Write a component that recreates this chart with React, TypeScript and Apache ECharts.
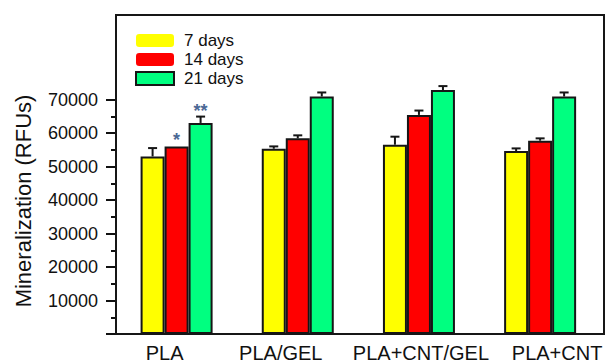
import React, { useEffect, useRef } from "react";
import * as echarts from "echarts";

const categories = ["PLA", "PLA/GEL", "PLA+CNT/GEL", "PLA+CNT"];
const seriesNames = ["7 days", "14 days", "21 days"];
const seriesColors = ["#ffff00", "#ff0000", "#00ff80"];
const day7 = [53000, 55300, 56500, 54600];
const day14 = [56000, 58400, 65400, 57700];
const day21 = [63000, 70900, 72800, 70900];
const err7 = [2500, 700, 2400, 800];
const err14 = [0, 900, 1300, 700];
const err21 = [1900, 1200, 1200, 1200];
const sig14 = ["*", "", "", ""];
const sig21 = ["**", "", "", ""];
const yMax = 70000;
const yInterval = 10000;

const values = [day7, day14, day21];
const errors = [err7, err14, err21];
const sigs = [[], sig14, sig21];

const FONT = "'Liberation Sans', Arial, sans-serif";
const BAR_W = 24;
// horizontal shift of each category label (px), as in the original figure
const labelShift = [-12, -17, 2, 17];

export default function App() {
  const ref = useRef<HTMLDivElement>(null);
  useEffect(() => {
    if (!ref.current) return;
    const chart = echarts.init(ref.current, null, { renderer: "svg" });

    const errData: number[][] = [];
    values.forEach((arr, s) =>
      arr.forEach((v, c) => errData.push([c, s, v, errors[s][c]]))
    );

    const barSeries = seriesNames.map((name, s) => ({
      name,
      type: "bar",
      barWidth: BAR_W,
      barGap: "0%",
      clip: false,
      z: 2,
      itemStyle: { color: seriesColors[s], borderColor: "#161616", borderWidth: 2 },
      data: values[s].map((v, c) => {
        const mark = sigs[s][c];
        if (!mark) return v;
        return {
          value: v,
          label: {
            show: true,
            position: "top",
            distance: 0,
            offset: [0, s === 1 ? 3 : -3],
            formatter: mark,
            color: "#4a6894",
            fontSize: 18,
            fontWeight: "bold",
            fontFamily: FONT,
          },
        };
      }),
    }));

    const option: any = {
      animation: false,
      backgroundColor: "#ffffff",
      textStyle: { fontFamily: FONT },
      grid: { left: 116, right: 1, top: 99.5, bottom: 29, containLabel: false },
      legend: {
        orient: "vertical",
        left: 135,
        top: 32,
        padding: 0,
        itemWidth: 38,
        itemHeight: 13,
        itemGap: 2,
        textStyle: { fontSize: 17, color: "#111", fontFamily: FONT, padding: [0, 0, 0, 5] },
        data: seriesNames.map((n, s) => ({
          name: n,
          icon: s === 2 ? "rect" : "roundRect",
          itemStyle:
            s === 2
              ? { color: seriesColors[s], borderColor: "#161616", borderWidth: 2 }
              : { color: seriesColors[s], borderWidth: 0 },
        })),
      },
      xAxis: [
        {
          type: "category",
          data: categories.map((c, i) => ({
            value: c,
            textStyle: {
              padding:
                labelShift[i] < 0
                  ? [0, -2 * labelShift[i], 0, 0]
                  : [0, 0, 0, 2 * labelShift[i]],
            },
          })),
          axisLine: { lineStyle: { color: "#111", width: 2 } },
          axisTick: { alignWithLabel: true, length: 5, lineStyle: { color: "#111", width: 2 } },
          axisLabel: {
            fontSize: 20,
            color: "#111",
            margin: 9,
            fontFamily: FONT,
            interval: 0,
            hideOverlap: false,
          },
        },
        {
          type: "category",
          data: categories,
          position: "bottom",
          axisLine: { show: false },
          axisTick: { alignWithLabel: false, length: 3, lineStyle: { color: "#111", width: 1.5 } },
          axisLabel: { show: false },
        },
      ],
      yAxis: {
        type: "value",
        min: 0,
        max: yMax,
        interval: yInterval,
        axisLine: { show: true, lineStyle: { color: "#111", width: 2 } },
        axisTick: { show: true, length: 10, lineStyle: { color: "#111", width: 2 } },
        minorTick: { show: true, splitNumber: 2, length: 5, lineStyle: { color: "#111", width: 2 } },
        splitLine: { show: false },
        axisLabel: {
          fontSize: 18,
          color: "#111",
          margin: 18,
          fontFamily: FONT,
          formatter: (v: number) => (v === 0 ? "" : String(v)),
        },
      },
      graphic: [
        {
          type: "rect",
          silent: true,
          z: 10,
          shape: { x: 116, y: 15, width: 488, height: 319 },
          style: { fill: "none", stroke: "#161616", lineWidth: 2 },
        },
        {
          type: "text",
          x: 23,
          y: 201,
          rotation: Math.PI / 2,
          style: {
            text: "Mineralization (RFUs)",
            fontSize: 22,
            fontFamily: FONT,
            fill: "#111",
            align: "center",
            verticalAlign: "middle",
          },
        },
      ],
      series: [
        ...barSeries,
        {
          type: "custom",
          name: "error",
          z: 3,
          clip: false,
          encode: { x: 0, y: 2 },
          data: errData,
          renderItem: (params: any, api: any) => {
            const c = api.value(0);
            const s = api.value(1);
            const v = api.value(2);
            const e = api.value(3);
            if (!e) return { type: "group", children: [] };
            const base = api.coord([c, v]);
            const top = api.coord([c, v + e]);
            const x = base[0] + (s - 1) * BAR_W;
            const st = { stroke: "#161616", lineWidth: 2 };
            return {
              type: "group",
              children: [
                { type: "line", shape: { x1: x, y1: base[1], x2: x, y2: top[1] }, style: st },
                { type: "line", shape: { x1: x - 4.5, y1: top[1], x2: x + 4.5, y2: top[1] }, style: st },
              ],
            };
          },
        },
      ],
    };
    chart.setOption(option);
    return () => chart.dispose();
  }, []);
  return (
    <div
      ref={ref}
      style={{ position: "absolute", left: 0, top: 0, width: 605, height: 363, background: "#fff" }}
    />
  );
}
